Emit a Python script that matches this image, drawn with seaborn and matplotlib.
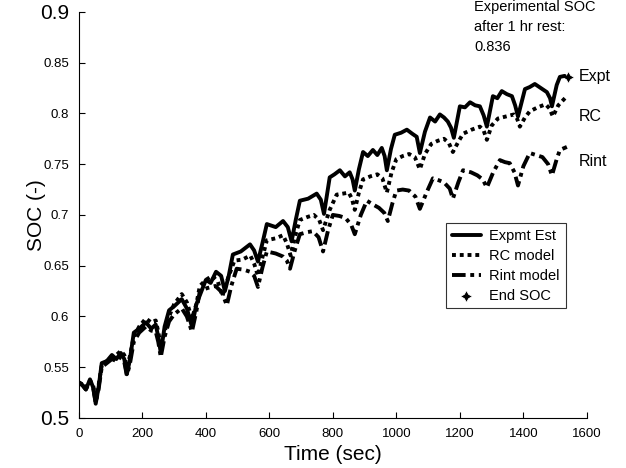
import matplotlib
matplotlib.use("Agg")
import matplotlib.pyplot as plt
import seaborn as sns
import pandas as pd

# Time (sec) / SOC values
expt_t = [0, 12, 22, 35, 45, 53, 62, 72, 88, 104, 118, 132, 143, 151, 160, 173, 190, 211, 228, 242, 250, 258,
          270, 284, 300, 324, 340, 356, 370, 400, 415, 432, 448, 460, 472, 485, 510, 539, 552, 564, 578, 592,
          620, 643, 658, 670, 683, 696, 722, 749, 762, 772, 790, 805, 822, 838, 853, 862, 869, 882, 895, 910,
          926, 940, 954, 963, 970, 983, 995, 1015, 1033, 1050, 1064, 1074, 1090, 1106, 1122, 1137, 1150, 1162,
          1172, 1181, 1200, 1216, 1232, 1248, 1263, 1275, 1285, 1304, 1318, 1332, 1348, 1364, 1374, 1383,
          1405, 1420, 1436, 1455, 1474, 1484, 1490, 1505, 1515, 1530]
expt_soc = [0.535, 0.532, 0.528, 0.538, 0.530, 0.514, 0.530, 0.554, 0.556, 0.562, 0.558, 0.564, 0.558, 0.543,
            0.556, 0.584, 0.588, 0.594, 0.588, 0.592, 0.580, 0.564, 0.590, 0.606, 0.610, 0.617, 0.608, 0.590,
            0.612, 0.636, 0.633, 0.644, 0.640, 0.625, 0.640, 0.661, 0.664, 0.671, 0.665, 0.654, 0.672, 0.691,
            0.688, 0.694, 0.688, 0.674, 0.695, 0.714, 0.716, 0.721, 0.715, 0.701, 0.737, 0.740, 0.744, 0.738,
            0.742, 0.735, 0.724, 0.745, 0.762, 0.758, 0.764, 0.759, 0.766, 0.758, 0.744, 0.765, 0.779, 0.781,
            0.784, 0.780, 0.777, 0.761, 0.782, 0.796, 0.792, 0.799, 0.796, 0.792, 0.786, 0.776, 0.807, 0.806,
            0.811, 0.808, 0.807, 0.798, 0.787, 0.817, 0.815, 0.822, 0.819, 0.817, 0.808, 0.797, 0.824, 0.826,
            0.829, 0.825, 0.821, 0.815, 0.807, 0.828, 0.836, 0.837]

rc_t = [0, 12, 22, 35, 45, 53, 62, 72, 88, 104, 118, 132, 143, 151, 160, 173, 190, 211, 228, 242, 250, 258,
        270, 284, 300, 324, 340, 356, 370, 381, 400, 420, 438, 452, 470, 490, 515, 540, 552, 564, 578, 592,
        620, 643, 655, 667, 680, 696, 720, 740, 757, 769, 790, 812, 832, 850, 860, 869, 882, 895, 918, 940,
        956, 970, 985, 1000, 1020, 1040, 1058, 1074, 1090, 1110, 1130, 1150, 1165, 1178, 1195, 1210, 1237,
        1263, 1275, 1285, 1300, 1320, 1345, 1370, 1380, 1389, 1405, 1420, 1445, 1470, 1482, 1493, 1510, 1537]
rc_soc = [0.535, 0.533, 0.530, 0.537, 0.532, 0.517, 0.532, 0.552, 0.556, 0.560, 0.562, 0.566, 0.562, 0.550,
          0.560, 0.580, 0.590, 0.598, 0.594, 0.596, 0.585, 0.570, 0.585, 0.600, 0.612, 0.622, 0.614, 0.598,
          0.612, 0.630, 0.636, 0.640, 0.634, 0.620, 0.638, 0.655, 0.656, 0.660, 0.652, 0.640, 0.658, 0.675,
          0.677, 0.680, 0.672, 0.660, 0.678, 0.695, 0.698, 0.700, 0.695, 0.685, 0.705, 0.720, 0.721, 0.722,
          0.716, 0.705, 0.722, 0.735, 0.738, 0.740, 0.736, 0.722, 0.742, 0.755, 0.758, 0.760, 0.757, 0.745,
          0.760, 0.770, 0.773, 0.775, 0.771, 0.762, 0.772, 0.780, 0.784, 0.787, 0.783, 0.774, 0.788, 0.795,
          0.797, 0.799, 0.795, 0.787, 0.796, 0.802, 0.806, 0.809, 0.805, 0.797, 0.808, 0.817]

rint_t = [0, 12, 22, 35, 45, 53, 62, 72, 88, 104, 118, 132, 143, 151, 160, 173, 190, 211, 228, 242, 250, 258,
          270, 284, 300, 324, 340, 356, 370, 381, 405, 430, 450, 466, 480, 497, 520, 539, 552, 564, 578, 592,
          620, 643, 655, 665, 680, 696, 718, 737, 755, 769, 785, 800, 820, 840, 858, 869, 888, 907, 928, 945,
          962, 973, 988, 1000, 1020, 1040, 1060, 1074, 1095, 1115, 1135, 1150, 1168, 1178, 1195, 1210, 1235,
          1255, 1272, 1285, 1305, 1326, 1342, 1357, 1372, 1383, 1400, 1420, 1440, 1460, 1478, 1490, 1505,
          1515, 1537]
rint_soc = [0.535, 0.532, 0.528, 0.536, 0.530, 0.515, 0.528, 0.550, 0.554, 0.558, 0.556, 0.560, 0.555, 0.542,
            0.552, 0.575, 0.584, 0.590, 0.586, 0.585, 0.575, 0.560, 0.580, 0.595, 0.602, 0.608, 0.600, 0.585,
            0.605, 0.625, 0.628, 0.630, 0.624, 0.611, 0.630, 0.647, 0.646, 0.644, 0.640, 0.629, 0.648, 0.664,
            0.662, 0.659, 0.655, 0.647, 0.665, 0.681, 0.683, 0.684, 0.678, 0.664, 0.685, 0.700, 0.699, 0.697,
            0.690, 0.681, 0.700, 0.714, 0.710, 0.707, 0.702, 0.694, 0.712, 0.724, 0.725, 0.724, 0.718, 0.706,
            0.722, 0.736, 0.734, 0.732, 0.726, 0.716, 0.732, 0.744, 0.742, 0.739, 0.735, 0.727, 0.742, 0.754,
            0.752, 0.751, 0.742, 0.729, 0.748, 0.761, 0.759, 0.757, 0.750, 0.739, 0.755, 0.764, 0.767]

end_t = [1540]
end_soc = [0.836]

x_ticks = [0, 200, 400, 600, 800, 1000, 1200, 1400, 1600]
y_ticks = [0.5, 0.55, 0.6, 0.65, 0.7, 0.75, 0.8, 0.85, 0.9]
y_labels = ["0.5", "0.55", "0.6", "0.65", "0.7", "0.75", "0.8", "0.85", "0.9"]

sns.set_style("ticks")
plt.rcParams['font.family'] = ['Liberation Sans', 'DejaVu Sans']
plt.rcParams['xtick.direction'] = 'in'
plt.rcParams['ytick.direction'] = 'in'
plt.rcParams['text.color'] = 'black'
plt.rcParams['axes.labelcolor'] = 'black'

fig = plt.figure(figsize=(6.26, 4.68), dpi=100)
ax = fig.add_axes([0.126, 0.107, 0.8115, 0.8675])

sns.lineplot(x=expt_t, y=expt_soc, ax=ax, color='black', lw=2.8, label='Expmt Est')
sns.lineplot(x=rc_t, y=rc_soc, ax=ax, color='black', lw=2.8, linestyle=(0, (1, 1)), label='RC model')
sns.lineplot(x=rint_t, y=rint_soc, ax=ax, color='black', lw=2.8, linestyle=(0, (3.5, 1.2, 1, 1.2)),
             label='Rint model')
sns.scatterplot(x=end_t, y=end_soc, ax=ax, color='black', marker=(4, 1, 0), s=80, label='End SOC')

ax.set_xlim(0, 1600)
ax.set_ylim(0.5, 0.9)
ax.set_xticks(x_ticks)
ax.set_yticks(y_ticks)
ax.set_yticklabels(y_labels)
ax.tick_params(axis='both', labelsize=9.5, length=4, width=0.8, colors='black')
ax.tick_params(axis='x', pad=7)
ax.tick_params(axis='y', pad=7)
for lbl in ax.get_yticklabels():
    if lbl.get_text() in ("0.5", "0.9"):
        lbl.set_fontsize(15)
sns.despine(ax=ax)
for s in ('left', 'bottom'):
    ax.spines[s].set_linewidth(0.8)
    ax.spines[s].set_color('black')

ax.set_xlabel('Time (sec)', fontsize=15, labelpad=4)
ax.set_ylabel('SOC (-)', fontsize=15, labelpad=-4)

ax.text(1245, 0.912, 'Experimental SOC\nafter 1 hr rest:\n0.836', fontsize=10.5, va='top', ha='left',
        linespacing=1.55, clip_on=False)
ax.text(1574, 0.836, 'Expt', fontsize=11.5, va='center', ha='left', clip_on=False)
ax.text(1574, 0.797, 'RC', fontsize=11.5, va='center', ha='left', clip_on=False)
ax.text(1574, 0.753, 'Rint', fontsize=11.5, va='center', ha='left', clip_on=False)

leg = ax.legend(loc='upper left', bbox_to_anchor=(0.712, 0.523), bbox_transform=fig.transFigure,
                frameon=True, fancybox=False, edgecolor='black', fontsize=10.5, handlelength=2.0,
                borderpad=0.4, labelspacing=0.4, handletextpad=0.6, borderaxespad=0)
leg.get_frame().set_linewidth(0.8)

fig.savefig('out.png', dpi=100)
